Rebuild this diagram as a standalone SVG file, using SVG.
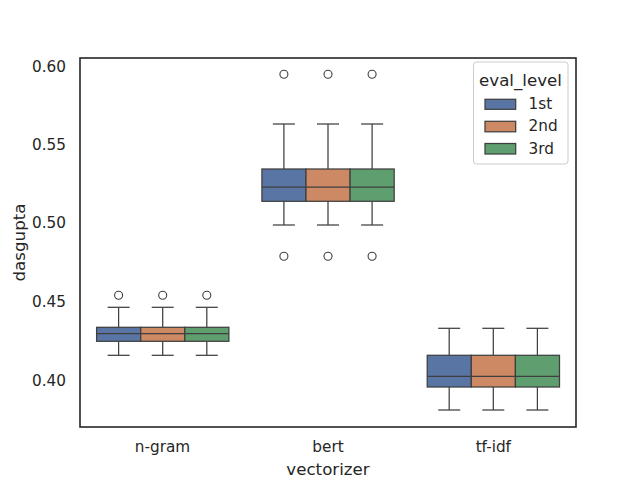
<svg xmlns="http://www.w3.org/2000/svg" width="640" height="480" viewBox="0 0 640 480">
<style>
text{font-family:"DejaVu Sans",sans-serif;fill:#262626}
.tick{font-size:15.28px}
.lab{font-size:16.67px}
.b1{fill:#5875a4}
.b2{fill:#cc8963}
.b3{fill:#5f9e6e}
.box rect{stroke:#3f3f3f;stroke-width:1.25}
.box line{stroke:#3f3f3f;stroke-width:1.25}
.box circle{fill:none;stroke:#3f3f3f;stroke-width:1.1}
</style>
<rect x="0" y="0" width="640" height="480" fill="#ffffff"/>
<g id="axes">
<rect x="80" y="58" width="496" height="369" fill="#ffffff" stroke="#262626" stroke-width="1.6"/>
</g>
<g id="yticks" class="tick" text-anchor="end">
<text x="66" y="71.8">0.60</text>
<text x="66" y="149.8">0.55</text>
<text x="66" y="227.8">0.50</text>
<text x="66" y="306.6">0.45</text>
<text x="66" y="385.6">0.40</text>
</g>
<g id="xticks" class="tick" text-anchor="middle">
<text x="162.5" y="452">n-gram</text>
<text x="328" y="452">bert</text>
<text x="493.3" y="452">tf-idf</text>
</g>
<text class="lab" x="328" y="474.5" text-anchor="middle">vectorizer</text>
<text class="lab" transform="translate(24.5,242.5) rotate(-90)" text-anchor="middle">dasgupta</text>
<g id="ngram" class="box">
<g id="ngram-1st">
<line x1="118.6" y1="327.3" x2="118.6" y2="307.3"/><line x1="107.6" y1="307.3" x2="129.6" y2="307.3"/>
<line x1="118.6" y1="341.3" x2="118.6" y2="355.3"/><line x1="107.6" y1="355.3" x2="129.6" y2="355.3"/>
<rect class="b1" x="96.6" y="327.3" width="44.1" height="14"/>
<line x1="96.6" y1="333.7" x2="140.7" y2="333.7"/>
<circle cx="118.6" cy="295.3" r="4"/>
</g>
<g id="ngram-2nd">
<line x1="162.7" y1="327.3" x2="162.7" y2="307.3"/><line x1="151.7" y1="307.3" x2="173.7" y2="307.3"/>
<line x1="162.7" y1="341.3" x2="162.7" y2="355.3"/><line x1="151.7" y1="355.3" x2="173.7" y2="355.3"/>
<rect class="b2" x="140.7" y="327.3" width="44.1" height="14"/>
<line x1="140.7" y1="333.7" x2="184.8" y2="333.7"/>
<circle cx="162.7" cy="295.3" r="4"/>
</g>
<g id="ngram-3rd">
<line x1="206.8" y1="327.3" x2="206.8" y2="307.3"/><line x1="195.8" y1="307.3" x2="217.8" y2="307.3"/>
<line x1="206.8" y1="341.3" x2="206.8" y2="355.3"/><line x1="195.8" y1="355.3" x2="217.8" y2="355.3"/>
<rect class="b3" x="184.8" y="327.3" width="44.1" height="14"/>
<line x1="184.8" y1="333.7" x2="228.9" y2="333.7"/>
<circle cx="206.8" cy="295.3" r="4"/>
</g>
</g>
<g id="bert" class="box">
<g id="bert-1st">
<line x1="283.9" y1="169" x2="283.9" y2="124"/><line x1="272.9" y1="124" x2="294.9" y2="124"/>
<line x1="283.9" y1="201.3" x2="283.9" y2="225"/><line x1="272.9" y1="225" x2="294.9" y2="225"/>
<rect class="b1" x="261.9" y="169" width="44.1" height="32.3"/>
<line x1="261.9" y1="187" x2="306" y2="187"/>
<circle cx="283.9" cy="74.3" r="4"/><circle cx="283.9" cy="256.3" r="4"/>
</g>
<g id="bert-2nd">
<line x1="328" y1="169" x2="328" y2="124"/><line x1="317" y1="124" x2="339" y2="124"/>
<line x1="328" y1="201.3" x2="328" y2="225"/><line x1="317" y1="225" x2="339" y2="225"/>
<rect class="b2" x="306" y="169" width="44.1" height="32.3"/>
<line x1="306" y1="187" x2="350.1" y2="187"/>
<circle cx="328" cy="74.3" r="4"/><circle cx="328" cy="256.3" r="4"/>
</g>
<g id="bert-3rd">
<line x1="372.1" y1="169" x2="372.1" y2="124"/><line x1="361.1" y1="124" x2="383.1" y2="124"/>
<line x1="372.1" y1="201.3" x2="372.1" y2="225"/><line x1="361.1" y1="225" x2="383.1" y2="225"/>
<rect class="b3" x="350.1" y="169" width="44.1" height="32.3"/>
<line x1="350.1" y1="187" x2="394.2" y2="187"/>
<circle cx="372.1" cy="74.3" r="4"/><circle cx="372.1" cy="256.3" r="4"/>
</g>
</g>
<g id="tfidf" class="box">
<g id="tfidf-1st">
<line x1="449.2" y1="355.3" x2="449.2" y2="328.3"/><line x1="438.2" y1="328.3" x2="460.2" y2="328.3"/>
<line x1="449.2" y1="387" x2="449.2" y2="410"/><line x1="438.2" y1="410" x2="460.2" y2="410"/>
<rect class="b1" x="427.2" y="355.3" width="44.1" height="31.7"/>
<line x1="427.2" y1="376.3" x2="471.3" y2="376.3"/>
</g>
<g id="tfidf-2nd">
<line x1="493.3" y1="355.3" x2="493.3" y2="328.3"/><line x1="482.3" y1="328.3" x2="504.3" y2="328.3"/>
<line x1="493.3" y1="387" x2="493.3" y2="410"/><line x1="482.3" y1="410" x2="504.3" y2="410"/>
<rect class="b2" x="471.3" y="355.3" width="44.1" height="31.7"/>
<line x1="471.3" y1="376.3" x2="515.4" y2="376.3"/>
</g>
<g id="tfidf-3rd">
<line x1="537.4" y1="355.3" x2="537.4" y2="328.3"/><line x1="526.4" y1="328.3" x2="548.4" y2="328.3"/>
<line x1="537.4" y1="387" x2="537.4" y2="410"/><line x1="526.4" y1="410" x2="548.4" y2="410"/>
<rect class="b3" x="515.4" y="355.3" width="44.1" height="31.7"/>
<line x1="515.4" y1="376.3" x2="559.5" y2="376.3"/>
</g>
</g>
<g id="legend">
<rect x="473.5" y="62" width="94.5" height="102" rx="3" fill="#ffffff" fill-opacity="0.8" stroke="#cccccc" stroke-width="1"/>
<text class="lab" x="520.5" y="86" text-anchor="middle">eval_level</text>
<g class="box">
<rect class="b1" x="485" y="99.3" width="30.7" height="10"/>
<rect class="b2" x="485" y="121.3" width="30.7" height="10.5"/>
<rect class="b3" x="485" y="143.5" width="30.7" height="10.5"/>
</g>
<text class="tick" x="528.5" y="108.8">1st</text>
<text class="tick" x="528.5" y="131.3">2nd</text>
<text class="tick" x="528.5" y="153.7">3rd</text>
</g>
</svg>
